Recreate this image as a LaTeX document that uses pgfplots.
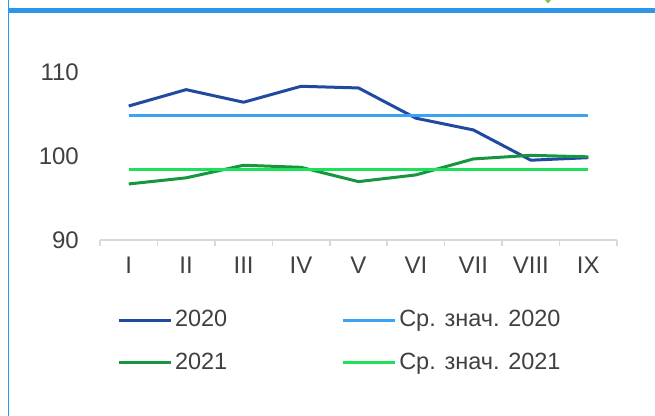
\documentclass[border=0pt]{standalone}
\usepackage{pgfplots}
\pgfplotsset{compat=1.18}
\usepackage{fontspec}
\setmainfont{Liberation Sans}
\definecolor{framecol}{RGB}{46,150,232}
\definecolor{tickgreen}{RGB}{139,195,74}
\definecolor{axgray}{RGB}{217,217,217}
\definecolor{labgray}{RGB}{64,64,64}
\definecolor{cA}{RGB}{31,74,160}
\definecolor{cAm}{RGB}{59,163,245}
\definecolor{cB}{RGB}{22,150,62}
\definecolor{cBm}{RGB}{30,224,90}
\begin{document}
\begin{tikzpicture}
\path[use as bounding box] (0bp,0bp) rectangle (655bp,416bp);
\draw[framecol, line width=1.6bp] (8.5bp,0bp) -- (8.5bp,416bp);
\draw[framecol, line width=4.5bp] (8.5bp,405.5bp) -- (655bp,405.5bp);
\fill[tickgreen] (545bp,416bp) -- (551bp,416bp) -- (548bp,412.5bp) -- cycle;
\begin{axis}[
  at={(100bp,176bp)}, anchor=south west,
  scale only axis, width=517bp, height=168bp,
  xmin=-0.5, xmax=8.5, ymin=90, ymax=110,
  clip=false,
  /pgf/number format/assume math mode=true,
  axis x line*=bottom, axis y line*=left,
  x axis line style={draw=axgray, line width=1.6bp},
  y axis line style={draw=none},
  xtick={0,...,8},
  xticklabels={I,II,III,IV,V,VI,VII,VIII,IX},
  minor xtick={-0.5,0.5,...,8.5},
  ytick={90,100,110},
  major tick length=0pt,
  minor tick length=6bp,
  tick align=outside,
  major tick style={draw=none},
  minor x tick style={draw=axgray, line width=1.6bp},
  tick label style={font=\fontsize{24bp}{28bp}\selectfont, text=labgray},
  xticklabel style={anchor=north, inner sep=0pt, yshift=-17bp},
  yticklabel style={anchor=east, inner sep=0pt, xshift=-21bp},
  legend columns=2,
  legend cell align=left,
  legend image code/.code={\draw[#1, line width=3bp] (0bp,0bp) -- (52bp,0bp);},
  legend style={at={(0,0)}, anchor=north west, xshift=17bp, yshift=-69bp,
    draw=none, fill=none, inner sep=0pt, outer sep=0pt,
    font=\fontsize{23.5bp}{28bp}\selectfont, text=labgray,
    row sep=20bp,
    nodes={inner sep=0pt, text height=17.5bp, text depth=5bp},
    /tikz/every odd column/.append style={column sep=3bp},
    /tikz/every even column/.append style={column sep=114bp}},
]
\addplot[cA, line width=3bp, line join=round] coordinates {(0,105.95) (1,107.9) (2,106.4) (3,108.3) (4,108.1) (5,104.5) (6,103.1) (7,99.5) (8,99.8)};
\addlegendentry{2020}
\addplot[cAm, line width=3bp] coordinates {(0,104.85) (1,104.85) (2,104.85) (3,104.85) (4,104.85) (5,104.85) (6,104.85) (7,104.85) (8,104.85)};
\addlegendentry{Ср. знач. 2020}
\addplot[cB, line width=3bp, line join=round] coordinates {(0,96.67) (1,97.4) (2,98.9) (3,98.65) (4,96.95) (5,97.75) (6,99.65) (7,100.08) (8,99.9)};
\addlegendentry{2021}
\addplot[cBm, line width=3bp] coordinates {(0,98.45) (1,98.45) (2,98.45) (3,98.45) (4,98.45) (5,98.45) (6,98.45) (7,98.45) (8,98.45)};
\addlegendentry{Ср. знач. 2021}
\end{axis}
\end{tikzpicture}
\end{document}
